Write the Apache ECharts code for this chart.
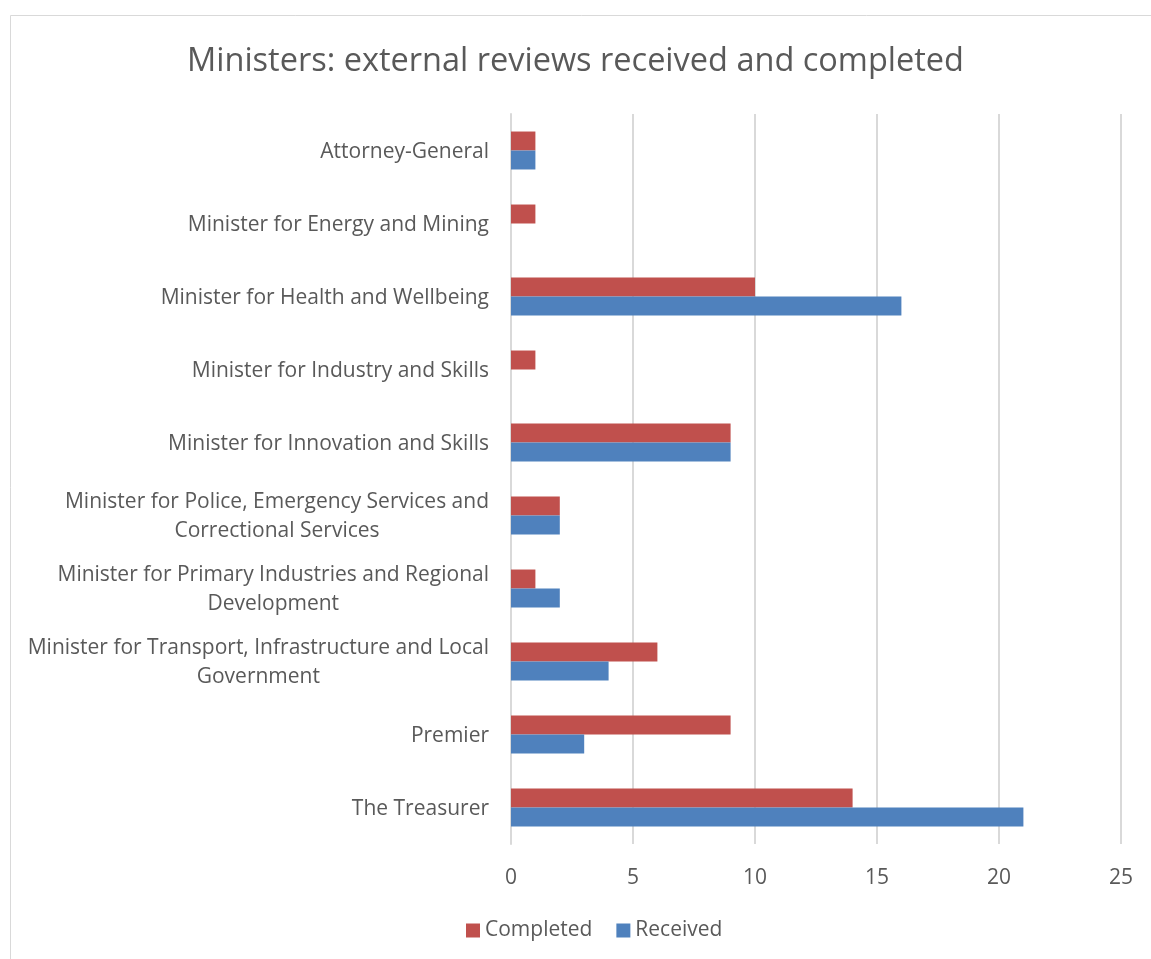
<!DOCTYPE html>
<html><head><meta charset="utf-8">
<script src="https://cdn.jsdelivr.net/npm/echarts@6/dist/echarts.min.js"></script>
<style>html,body{margin:0;padding:0;background:#fff}#c{width:1151px;height:959px}</style>
</head><body><div id="c"></div>
<script>
const categories = [
  "Attorney-General",
  "Minister for Energy and Mining",
  "Minister for Health and Wellbeing",
  "Minister for Industry and Skills",
  "Minister for Innovation and Skills",
  "Minister for Police, Emergency Services and\nCorrectional Services",
  "Minister for Primary Industries and Regional\nDevelopment",
  "Minister for Transport, Infrastructure and Local\nGovernment",
  "Premier",
  "The Treasurer"
];
const completed = [1, 1, 10, 1, 9, 2, 1, 6, 9, 14];
const received = [1, 0, 16, 0, 9, 2, 2, 4, 3, 21];
const xTicks = [0, 5, 10, 15, 20, 25];

const FONT = 'Open Sans';
const chart = echarts.init(document.getElementById('c'));
chart.setOption({
  animation: false,
  graphic: [{type:'rect', shape:{x:10.5,y:15.5,width:1200,height:1000}, style:{fill:'none', stroke:'#d9d9d9', lineWidth:1}}],
  title: {text: 'Ministers: external reviews received and completed', left: 'center', top: 40,
    textStyle: {fontFamily: FONT, fontSize: 32.5, fontWeight: 'normal', color: '#595959'}},
  legend: {bottom: 13, left: 461, itemWidth: 14, itemHeight: 14, itemGap: 24, icon: 'rect',
    textStyle: {fontFamily: FONT, fontSize: 21, color: '#595959'}},
  grid: {left: 511, right: 30, top: 114, bottom: 115},
  xAxis: {type: 'value', min: 0, max: 25, interval: 5,
    axisLine: {show: false}, axisTick: {show: false},
    splitLine: {lineStyle: {color: '#d9d9d9', width: 2}},
    axisLabel: {margin: 24, fontFamily: FONT, fontSize: 21, color: '#595959',
      formatter: v => xTicks.includes(v) ? String(v) : ''}},
  yAxis: {type: 'category', data: categories, inverse: true,
    axisLine: {show: true, lineStyle: {color: '#d9d9d9', width: 2}}, axisTick: {show: false},
    axisLabel: {margin: 22, fontFamily: FONT, fontSize: 21, color: '#595959', align: 'right',
      formatter: v => v.split('\n').map(s => '{a|' + s + '}').join('\n'),
      rich: {a: {align: 'center', fontFamily: FONT, fontSize: 21, color: '#595959', lineHeight: 29, padding: [3, 0, 0, 0]}}}},
  series: [
    {name: 'Completed', type: 'bar', data: completed, barGap: '0%', barCategoryGap: '48%',
      itemStyle: {color: '#c0504d'}},
    {name: 'Received', type: 'bar', data: received,
      itemStyle: {color: '#4f81bd'}}
  ]
});
</script></body></html>
